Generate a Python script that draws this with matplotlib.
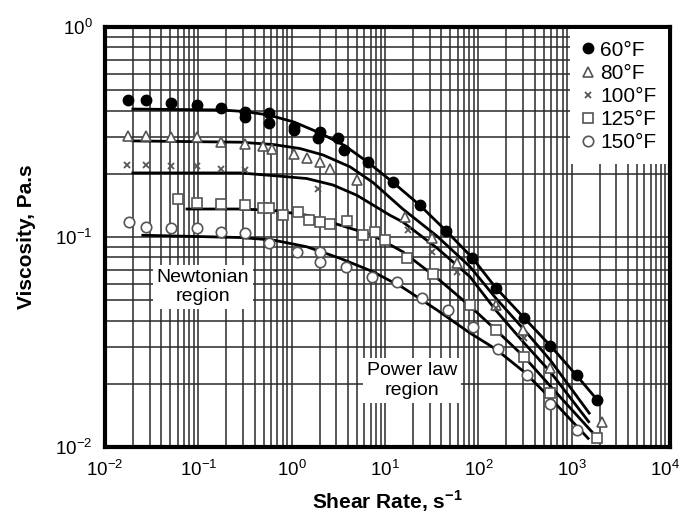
import numpy as np
import matplotlib
matplotlib.use('Agg')
import matplotlib.pyplot as plt
from matplotlib.ticker import FixedLocator, LogFormatterMathtext, NullFormatter

plt.rcParams['font.family'] = ['Liberation Sans', 'DejaVu Sans']
plt.rcParams['mathtext.fontset'] = 'custom'
plt.rcParams['mathtext.rm'] = 'Liberation Sans'
plt.rcParams['mathtext.bf'] = 'Liberation Sans:bold'

# measured points (shear rate 1/s, viscosity Pa.s)
rate_60 = [0.0176, 0.0278, 0.0508, 0.0965, 0.177, 0.316, 0.316, 0.57, 0.57, 1.06, 1.06,
           2.01, 1.93, 3.13, 3.68, 6.57, 12.2, 23.5, 45.2, 85.8, 153, 309, 590, 1140, 1870]
visc_60 = [0.452, 0.449, 0.435, 0.424, 0.413, 0.396, 0.374, 0.388, 0.348, 0.335, 0.323,
           0.317, 0.295, 0.295, 0.26, 0.227, 0.182, 0.142, 0.107, 0.0798, 0.0575, 0.0412,
           0.0304, 0.022, 0.0168]

rate_80 = [0.0176, 0.0278, 0.0508, 0.0965, 0.177, 0.316, 0.495, 0.61, 1.06, 1.45, 2.01,
           2.57, 4.98, 16.4, 31.6, 58.6, 153, 301, 590, 2090]
visc_80 = [0.304, 0.304, 0.298, 0.298, 0.284, 0.276, 0.271, 0.264, 0.248, 0.237, 0.228,
           0.210, 0.187, 0.125, 0.0995, 0.075, 0.0475, 0.0362, 0.0237, 0.0132]

rate_100 = [0.0171, 0.0278, 0.0508, 0.0965, 0.177, 0.316, 1.93, 17.7, 31.6, 58.6, 153, 309]
visc_100 = [0.220, 0.220, 0.218, 0.219, 0.212, 0.209, 0.169, 0.108, 0.0851, 0.068,
            0.046, 0.033]

rate_125 = [0.0608, 0.0967, 0.177, 0.316, 0.495, 0.57, 0.811, 1.18, 1.55, 2.01, 2.57,
            3.89, 5.86, 7.8, 9.98, 17.1, 32.9, 81.4, 153, 305, 590, 1860]
visc_125 = [0.152, 0.146, 0.144, 0.142, 0.138, 0.137, 0.128, 0.132, 0.120, 0.118, 0.116,
            0.119, 0.102, 0.106, 0.0968, 0.0792, 0.0664, 0.0475, 0.0362, 0.0269, 0.018,
            0.0111]

rate_150 = [0.0182, 0.0278, 0.0508, 0.0965, 0.177, 0.316, 0.57, 1.13, 2.01, 2.01, 3.82,
            7.2, 13.4, 24.7, 47.4, 86.8, 164, 330, 590, 1130]
visc_150 = [0.118, 0.112, 0.110, 0.110, 0.106, 0.105, 0.0933, 0.0851, 0.0851, 0.0763,
            0.0722, 0.0647, 0.061, 0.0515, 0.0449, 0.0374, 0.0292, 0.022, 0.0161, 0.012]

# fitted curves
fit_rate_60 = [0.0199, 0.177, 0.316, 0.57, 1.06, 2.01, 3.68, 6.57, 12.2, 23.5, 45.2,
               85.8, 153, 309, 590, 1140, 1870]
fit_visc_60 = [0.407, 0.403, 0.396, 0.381, 0.353, 0.313, 0.273, 0.227, 0.182, 0.142,
               0.107, 0.0798, 0.0575, 0.0412, 0.0304, 0.0218, 0.0168]

fit_rate_80 = [0.0199, 0.28, 0.63, 1.23, 2.17, 4.22, 7.42, 15.5, 36.1, 81.4, 153, 309,
               590, 1540]
fit_visc_80 = [0.287, 0.283, 0.276, 0.264, 0.246, 0.216, 0.182, 0.136, 0.101, 0.0722,
               0.0513, 0.0362, 0.0259, 0.0145]

fit_rate_100 = [0.0199, 0.28, 0.745, 1.45, 2.77, 5.01, 11.3, 15.5, 36.1, 81.4, 153, 309,
                590, 1520]
fit_visc_100 = [0.202, 0.202, 0.195, 0.190, 0.177, 0.158, 0.127, 0.118, 0.0886, 0.0647,
                0.0449, 0.0313, 0.0228, 0.0132]

fit_rate_125 = [0.0756, 0.28, 0.63, 1.45, 3.30, 7.42, 15.5, 36.1, 81.4, 153, 309, 590,
                1650]
fit_visc_125 = [0.136, 0.136, 0.134, 0.127, 0.114, 0.102, 0.0851, 0.0638, 0.0469, 0.0362,
                0.0269, 0.0195, 0.0118]

fit_rate_150 = [0.0254, 0.28, 0.63, 1.45, 3.30, 7.42, 15.5, 36.1, 81.4, 153, 309, 590,
                1500]
fit_visc_150 = [0.102, 0.0995, 0.0968, 0.0899, 0.0792, 0.0684, 0.0575, 0.0449, 0.0349,
                0.0293, 0.0228, 0.0171, 0.011]

labels = ['60°F', '80°F', '100°F', '125°F', '150°F']
x_decades = [1e-2, 1e-1, 1e0, 1e1, 1e2, 1e3, 1e4]
y_decades = [1e-2, 1e-1, 1e0]


def minor_positions(decades):
    out = []
    for d in decades[:-1]:
        out += [d * k for k in range(2, 10)]
    return out


fig = plt.figure(figsize=(6.8, 5.21), dpi=100)
ax = fig.add_axes([0.1544, 0.142, 0.8309, 0.806])
ax.set_xscale('log')
ax.set_yscale('log')
ax.set_xlim(1e-2, 1.13e4)
ax.set_ylim(1e-2, 1e0)

# graph paper grid
ax.xaxis.set_major_locator(FixedLocator(x_decades))
ax.xaxis.set_minor_locator(FixedLocator(minor_positions(x_decades)))
ax.yaxis.set_major_locator(FixedLocator(y_decades))
ax.yaxis.set_minor_locator(FixedLocator(minor_positions(y_decades)))
for axis in (ax.xaxis, ax.yaxis):
    axis.set_major_formatter(LogFormatterMathtext())
    axis.set_minor_formatter(NullFormatter())
ax.set_axisbelow(True)
ax.grid(True, which='both', color='#2a2a2a', linewidth=1.1)
ax.tick_params(which='both', length=0, labelsize=13.5, pad=9)

for s in ax.spines.values():
    s.set_linewidth(3)

# fitted lines
for r, v in [(fit_rate_60, fit_visc_60), (fit_rate_80, fit_visc_80),
             (fit_rate_100, fit_visc_100), (fit_rate_125, fit_visc_125),
             (fit_rate_150, fit_visc_150)]:
    ax.plot(r, v, color='black', linewidth=2, zorder=3)

# data points
grey = '#555555'
h1, = ax.plot(rate_60, visc_60, 'o', ms=7.5, color='black', zorder=4)
h2, = ax.plot(rate_80, visc_80, '^', ms=7, mfc='white', mec=grey, mew=1.2, zorder=4)
h3, = ax.plot(rate_100, visc_100, 'x', ms=5, color=grey, mew=1.3, zorder=4)
h4, = ax.plot(rate_125, visc_125, 's', ms=7, mfc='white', mec=grey, mew=1.2, zorder=4)
h5, = ax.plot(rate_150, visc_150, 'o', ms=7.5, mfc='white', mec=grey, mew=1.2, zorder=4)

leg = ax.legend([h1, h2, h3, h4, h5], labels, loc='upper right', fontsize=15,
                frameon=True, fancybox=False, borderaxespad=0.1, framealpha=1,
                handlelength=0.6, handletextpad=0.3, labelspacing=0.2,
                borderpad=0.55)
leg.get_frame().set_edgecolor('white')
leg.get_frame().set_linewidth(0)
leg.set_zorder(5)

box = dict(facecolor='white', edgecolor='none', pad=3)
ax.text(0.112, 0.0578, 'Newtonian\nregion', ha='center', va='center', fontsize=14,
        bbox=box, zorder=5)
ax.text(19.5, 0.0208, 'Power law\nregion', ha='center', va='center', fontsize=14,
        bbox=box, zorder=5)

ax.set_xlabel(r'Shear Rate, s$^{\mathbf{-1}}$', fontsize=15, fontweight='bold', labelpad=6)
ax.set_ylabel('Viscosity, Pa.s', fontsize=15, fontweight='bold', labelpad=14)

fig.savefig('out.png', dpi=100)
